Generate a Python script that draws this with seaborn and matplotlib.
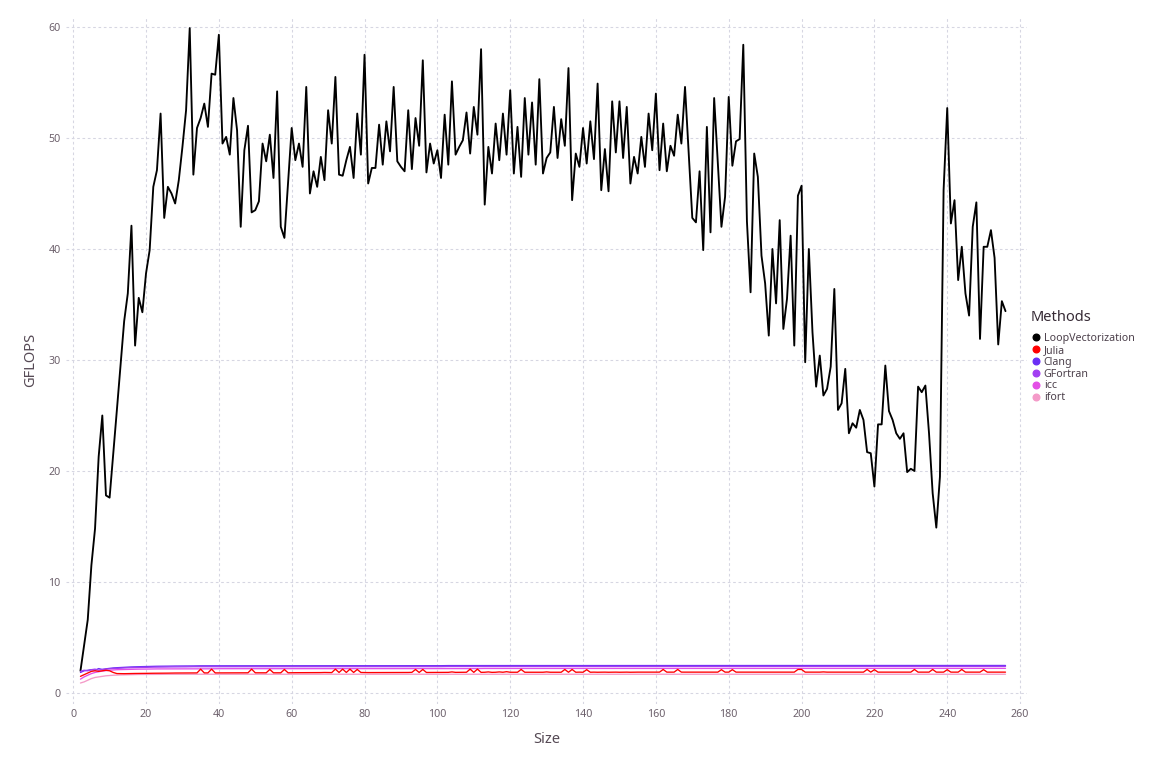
import matplotlib
matplotlib.use("Agg")
import matplotlib.pyplot as plt
import pandas as pd
import seaborn as sns
from matplotlib.lines import Line2D

sizes = list(range(2, 257))

loopvec = [
    2.0, 4.3, 6.6, 11.5, 14.8, 21.3, 25.0, 17.8, 17.6, 21.5,
    25.5, 29.5, 33.5, 36.0, 42.1, 31.3, 35.6, 34.3, 37.8, 39.9,
    45.6, 47.1, 52.2, 42.8, 45.6, 45.0, 44.1, 46.2, 49.2, 52.5,
    59.9, 46.7, 50.9, 51.8, 53.1, 51.0, 55.8, 55.7, 59.3, 49.5,
    50.1, 48.5, 53.6, 50.7, 42.0, 48.9, 51.1, 43.3, 43.5, 44.3,
    49.5, 47.9, 50.3, 46.4, 54.2, 42.0, 41.0, 45.9, 50.9, 48.0,
    49.5, 47.4, 54.6, 45.0, 47.0, 45.6, 48.3, 46.2, 52.5, 49.5,
    55.5, 46.7, 46.6, 48.0, 49.2, 46.4, 52.2, 48.5, 57.5, 45.9,
    47.3, 47.3, 51.2, 47.6, 51.5, 48.8, 54.6, 47.9, 47.4, 47.0,
    52.5, 47.2, 51.8, 49.3, 57.0, 46.9, 49.5, 47.7, 48.9, 46.4,
    52.1, 47.6, 55.1, 48.5, 49.2, 49.8, 52.3, 48.6, 52.8, 50.3,
    58.0, 44.0, 49.2, 46.8, 51.3, 48.0, 52.2, 48.5, 54.3, 46.8,
    51.0, 46.5, 53.6, 48.5, 53.2, 47.6, 55.3, 46.8, 48.2, 48.7,
    52.8, 48.2, 51.7, 49.3, 56.3, 44.4, 48.6, 47.4, 50.9, 47.7,
    51.5, 48.1, 54.9, 45.3, 49.0, 45.2, 53.3, 48.7, 53.3, 48.2,
    52.8, 45.9, 48.3, 46.8, 50.1, 47.4, 52.2, 48.9, 54.0, 47.1,
    51.3, 47.0, 49.3, 48.4, 52.1, 49.5, 54.6, 48.7, 42.8, 42.4,
    47.0, 39.9, 51.0, 41.5, 53.6, 47.8, 42.0, 44.7, 53.7, 47.5,
    49.7, 49.9, 58.4, 42.5, 36.1, 48.6, 46.5, 39.4, 36.9, 32.2,
    40.0, 35.1, 42.6, 32.8, 35.5, 41.2, 31.3, 44.8, 45.7, 29.8,
    40.0, 32.5, 27.6, 30.4, 26.8, 27.4, 29.4, 36.4, 25.5, 26.1,
    29.2, 23.4, 24.3, 23.9, 25.5, 24.6, 21.7, 21.6, 18.6, 24.2,
    24.2, 29.5, 25.4, 24.6, 23.4, 22.9, 23.4, 19.9, 20.2, 20.0,
    27.6, 27.1, 27.7, 23.4, 18.0, 14.9, 19.5, 45.3, 52.7, 42.3,
    44.4, 37.2, 40.2, 36.0, 34.0, 42.0, 44.2, 31.9, 40.2, 40.2,
    41.7, 39.2, 31.4, 35.3, 34.4,
]

julia = [
    1.50, 1.65, 1.80, 1.95, 2.00, 1.95, 2.00, 2.05, 2.00, 1.85,
    1.75, 1.74, 1.74, 1.75, 1.75, 1.76, 1.76, 1.77, 1.77, 1.78,
    1.78, 1.78, 1.79, 1.79, 1.79, 1.80, 1.80, 1.80, 1.80, 1.80,
    1.80, 1.81, 1.81, 2.15, 1.81, 1.81, 2.15, 1.81, 1.81, 1.81,
    1.81, 1.81, 1.82, 1.81, 1.82, 1.82, 1.82, 2.15, 1.82, 1.82,
    1.82, 1.82, 2.12, 1.82, 1.82, 1.82, 2.12, 1.82, 1.83, 1.83,
    1.83, 1.83, 1.83, 1.84, 1.83, 1.84, 1.84, 1.85, 1.84, 1.84,
    2.15, 1.85, 2.15, 1.85, 2.15, 1.85, 2.12, 1.85, 1.84, 1.84,
    1.84, 1.83, 1.83, 1.84, 1.83, 1.83, 1.84, 1.84, 1.84, 1.85,
    1.85, 1.86, 2.12, 1.85, 2.12, 1.85, 1.85, 1.85, 1.86, 1.85,
    1.86, 1.86, 1.90, 1.86, 1.86, 1.86, 1.87, 2.15, 1.86, 2.15,
    1.86, 1.87, 1.90, 1.86, 1.87, 1.90, 1.87, 1.92, 1.87, 1.87,
    1.87, 2.12, 1.87, 1.87, 1.87, 1.87, 1.88, 1.87, 1.90, 1.87,
    1.87, 1.88, 1.87, 2.12, 1.87, 2.12, 1.87, 1.88, 1.87, 2.10,
    1.87, 1.88, 1.87, 1.88, 1.88, 1.87, 1.88, 1.88, 1.87, 1.88,
    1.88, 1.87, 1.88, 1.88, 1.88, 1.88, 1.88, 1.88, 1.89, 1.88,
    2.12, 1.88, 1.88, 1.88, 2.12, 1.88, 1.88, 1.88, 1.88, 1.88,
    1.88, 1.89, 1.88, 1.88, 1.88, 1.88, 2.10, 1.88, 1.88, 2.10,
    1.88, 1.88, 1.88, 1.89, 1.88, 1.88, 1.88, 1.88, 1.88, 1.88,
    1.88, 1.88, 1.89, 1.88, 1.88, 1.88, 1.88, 2.12, 2.12, 1.88,
    1.88, 1.89, 1.88, 1.88, 1.90, 1.88, 1.88, 1.88, 1.88, 1.89,
    1.88, 1.88, 1.88, 1.88, 1.88, 1.88, 2.12, 1.88, 2.10, 1.88,
    1.88, 1.88, 1.89, 1.88, 1.88, 1.88, 1.88, 1.88, 1.88, 2.12,
    1.88, 1.88, 1.88, 1.88, 2.12, 1.88, 1.88, 1.88, 2.10, 1.88,
    1.88, 1.88, 2.12, 1.88, 1.88, 1.88, 1.88, 1.88, 2.10, 1.88,
    1.88, 1.88, 1.88, 1.88, 1.88,
]

clang = [
    1.85, 2.00, 2.05, 2.10, 2.05, 2.20, 2.12, 2.18, 2.22, 2.26,
    2.28, 2.30, 2.32, 2.33, 2.35, 2.36, 2.37, 2.38, 2.39, 2.40,
    2.40, 2.41, 2.41, 2.42, 2.42, 2.43, 2.43, 2.43, 2.44, 2.44,
    2.44, 2.44, 2.45, 2.45, 2.45, 2.45, 2.45, 2.45, 2.45, 2.45,
    2.45, 2.45, 2.45, 2.45, 2.45, 2.45, 2.45, 2.45, 2.45, 2.45,
    2.46, 2.46, 2.46, 2.46, 2.46, 2.46, 2.46, 2.46, 2.46, 2.46,
    2.46, 2.46, 2.46, 2.46, 2.46, 2.46, 2.46, 2.46, 2.46, 2.46,
    2.46, 2.46, 2.46, 2.46, 2.46, 2.46, 2.46, 2.46, 2.46, 2.46,
    2.46, 2.46, 2.46, 2.46, 2.46, 2.46, 2.46, 2.46, 2.46, 2.46,
    2.46, 2.46, 2.46, 2.46, 2.46, 2.46, 2.46, 2.46, 2.46, 2.46,
    2.47, 2.47, 2.47, 2.47, 2.47, 2.47, 2.47, 2.47, 2.47, 2.47,
    2.47, 2.47, 2.47, 2.47, 2.47, 2.47, 2.47, 2.47, 2.47, 2.47,
    2.47, 2.47, 2.47, 2.47, 2.47, 2.47, 2.47, 2.47, 2.47, 2.47,
    2.47, 2.47, 2.47, 2.47, 2.47, 2.47, 2.47, 2.47, 2.47, 2.47,
    2.47, 2.47, 2.47, 2.47, 2.47, 2.47, 2.47, 2.47, 2.47, 2.47,
    2.47, 2.47, 2.47, 2.47, 2.47, 2.47, 2.47, 2.47, 2.47, 2.47,
    2.48, 2.48, 2.48, 2.48, 2.48, 2.48, 2.48, 2.48, 2.48, 2.48,
    2.48, 2.48, 2.48, 2.48, 2.48, 2.48, 2.48, 2.48, 2.48, 2.48,
    2.48, 2.48, 2.48, 2.48, 2.48, 2.48, 2.48, 2.48, 2.48, 2.48,
    2.48, 2.48, 2.48, 2.48, 2.48, 2.48, 2.48, 2.48, 2.48, 2.48,
    2.48, 2.48, 2.48, 2.48, 2.48, 2.48, 2.48, 2.48, 2.48, 2.48,
    2.48, 2.48, 2.48, 2.48, 2.48, 2.48, 2.48, 2.48, 2.48, 2.48,
    2.48, 2.48, 2.48, 2.48, 2.48, 2.48, 2.48, 2.48, 2.48, 2.48,
    2.48, 2.48, 2.48, 2.48, 2.48, 2.48, 2.48, 2.48, 2.48, 2.48,
    2.48, 2.48, 2.48, 2.48, 2.48, 2.48, 2.48, 2.48, 2.48, 2.48,
    2.48, 2.48, 2.48, 2.48, 2.48,
]

gfortran = [
    1.95, 2.05, 2.00, 2.10, 2.15, 2.05, 2.12, 2.15, 2.18, 2.20,
    2.22, 2.24, 2.25, 2.27, 2.28, 2.29, 2.30, 2.31, 2.32, 2.32,
    2.33, 2.33, 2.34, 2.34, 2.35, 2.35, 2.35, 2.36, 2.36, 2.36,
    2.37, 2.37, 2.37, 2.37, 2.37, 2.37, 2.37, 2.37, 2.37, 2.37,
    2.37, 2.37, 2.37, 2.37, 2.37, 2.37, 2.37, 2.37, 2.37, 2.37,
    2.38, 2.38, 2.38, 2.38, 2.38, 2.38, 2.38, 2.38, 2.38, 2.38,
    2.38, 2.38, 2.38, 2.38, 2.38, 2.38, 2.38, 2.38, 2.38, 2.38,
    2.38, 2.38, 2.38, 2.38, 2.38, 2.38, 2.38, 2.38, 2.38, 2.38,
    2.38, 2.38, 2.38, 2.38, 2.38, 2.38, 2.38, 2.38, 2.38, 2.38,
    2.38, 2.38, 2.38, 2.38, 2.38, 2.38, 2.38, 2.38, 2.38, 2.38,
    2.39, 2.39, 2.39, 2.39, 2.39, 2.39, 2.39, 2.39, 2.39, 2.39,
    2.39, 2.39, 2.39, 2.39, 2.39, 2.39, 2.39, 2.39, 2.39, 2.39,
    2.39, 2.39, 2.39, 2.39, 2.39, 2.39, 2.39, 2.39, 2.39, 2.39,
    2.39, 2.39, 2.39, 2.39, 2.39, 2.39, 2.39, 2.39, 2.39, 2.39,
    2.39, 2.39, 2.39, 2.39, 2.39, 2.39, 2.39, 2.39, 2.39, 2.39,
    2.39, 2.39, 2.39, 2.39, 2.39, 2.39, 2.39, 2.39, 2.39, 2.39,
    2.40, 2.40, 2.40, 2.40, 2.40, 2.40, 2.40, 2.40, 2.40, 2.40,
    2.40, 2.40, 2.40, 2.40, 2.40, 2.40, 2.40, 2.40, 2.40, 2.40,
    2.40, 2.40, 2.40, 2.40, 2.40, 2.40, 2.40, 2.40, 2.40, 2.40,
    2.40, 2.40, 2.40, 2.40, 2.40, 2.40, 2.40, 2.40, 2.40, 2.40,
    2.40, 2.40, 2.40, 2.40, 2.40, 2.40, 2.40, 2.40, 2.40, 2.40,
    2.40, 2.40, 2.40, 2.40, 2.40, 2.40, 2.40, 2.40, 2.40, 2.40,
    2.40, 2.40, 2.40, 2.40, 2.40, 2.40, 2.40, 2.40, 2.40, 2.40,
    2.40, 2.40, 2.40, 2.40, 2.40, 2.40, 2.40, 2.40, 2.40, 2.40,
    2.40, 2.40, 2.40, 2.40, 2.40, 2.40, 2.40, 2.40, 2.40, 2.40,
    2.40, 2.40, 2.40, 2.40, 2.40,
]

icc = [
    1.25, 1.45, 1.60, 1.75, 1.85, 1.92, 1.98, 2.02, 2.05, 2.08,
    2.10, 2.11, 2.12, 2.13, 2.14, 2.14, 2.15, 2.15, 2.16, 2.16,
    2.17, 2.17, 2.17, 2.17, 2.18, 2.18, 2.18, 2.18, 2.18, 2.18,
    2.18, 2.18, 2.18, 2.18, 2.18, 2.18, 2.18, 2.19, 2.19, 2.19,
    2.19, 2.19, 2.19, 2.19, 2.19, 2.19, 2.19, 2.19, 2.19, 2.19,
    2.19, 2.19, 2.19, 2.19, 2.19, 2.19, 2.19, 2.19, 2.19, 2.19,
    2.20, 2.20, 2.20, 2.20, 2.20, 2.20, 2.20, 2.20, 2.20, 2.20,
    2.20, 2.20, 2.20, 2.20, 2.20, 2.20, 2.20, 2.20, 2.20, 2.20,
    2.20, 2.20, 2.20, 2.20, 2.20, 2.20, 2.20, 2.20, 2.20, 2.20,
    2.20, 2.20, 2.20, 2.20, 2.20, 2.20, 2.20, 2.20, 2.20, 2.20,
    2.20, 2.20, 2.20, 2.20, 2.20, 2.20, 2.20, 2.20, 2.20, 2.20,
    2.21, 2.21, 2.21, 2.21, 2.21, 2.21, 2.21, 2.21, 2.21, 2.21,
    2.21, 2.21, 2.21, 2.21, 2.21, 2.21, 2.21, 2.21, 2.21, 2.21,
    2.21, 2.21, 2.21, 2.21, 2.21, 2.21, 2.21, 2.21, 2.21, 2.21,
    2.21, 2.21, 2.21, 2.21, 2.21, 2.21, 2.21, 2.21, 2.21, 2.21,
    2.21, 2.21, 2.21, 2.21, 2.21, 2.21, 2.21, 2.21, 2.21, 2.21,
    2.21, 2.21, 2.21, 2.21, 2.21, 2.21, 2.21, 2.21, 2.21, 2.21,
    2.21, 2.21, 2.21, 2.21, 2.21, 2.21, 2.21, 2.21, 2.21, 2.21,
    2.21, 2.21, 2.21, 2.21, 2.21, 2.21, 2.21, 2.21, 2.21, 2.21,
    2.22, 2.22, 2.22, 2.22, 2.22, 2.22, 2.22, 2.22, 2.22, 2.22,
    2.22, 2.22, 2.22, 2.22, 2.22, 2.22, 2.22, 2.22, 2.22, 2.22,
    2.22, 2.22, 2.22, 2.22, 2.22, 2.22, 2.22, 2.22, 2.22, 2.22,
    2.22, 2.22, 2.22, 2.22, 2.22, 2.22, 2.22, 2.22, 2.22, 2.22,
    2.22, 2.22, 2.22, 2.22, 2.22, 2.22, 2.22, 2.22, 2.22, 2.22,
    2.22, 2.22, 2.22, 2.22, 2.22, 2.22, 2.22, 2.22, 2.22, 2.22,
    2.22, 2.22, 2.22, 2.22, 2.22,
]

ifort = [
    0.90, 1.00, 1.15, 1.30, 1.40, 1.45, 1.50, 1.55, 1.58, 1.60,
    1.62, 1.63, 1.64, 1.65, 1.66, 1.66, 1.67, 1.67, 1.68, 1.68,
    1.68, 1.68, 1.68, 1.69, 1.69, 1.69, 1.69, 1.69, 1.69, 1.69,
    1.69, 1.69, 1.69, 1.69, 1.69, 1.69, 1.69, 1.69, 1.69, 1.69,
    1.70, 1.70, 1.70, 1.70, 1.70, 1.70, 1.70, 1.70, 1.70, 1.70,
    1.70, 1.70, 1.70, 1.70, 1.70, 1.70, 1.70, 1.70, 1.70, 1.70,
    1.70, 1.70, 1.70, 1.70, 1.70, 1.70, 1.70, 1.70, 1.70, 1.70,
    1.70, 1.70, 1.70, 1.70, 1.70, 1.70, 1.70, 1.70, 1.70, 1.70,
    1.70, 1.70, 1.70, 1.70, 1.70, 1.70, 1.70, 1.70, 1.70, 1.70,
    1.70, 1.70, 1.70, 1.70, 1.70, 1.70, 1.70, 1.70, 1.70, 1.70,
    1.70, 1.70, 1.70, 1.70, 1.70, 1.70, 1.70, 1.70, 1.70, 1.70,
    1.70, 1.70, 1.70, 1.70, 1.70, 1.70, 1.70, 1.70, 1.70, 1.70,
    1.70, 1.70, 1.70, 1.70, 1.70, 1.70, 1.70, 1.70, 1.70, 1.70,
    1.70, 1.70, 1.70, 1.70, 1.70, 1.70, 1.70, 1.70, 1.70, 1.70,
    1.70, 1.70, 1.70, 1.70, 1.70, 1.70, 1.70, 1.70, 1.70, 1.70,
    1.70, 1.70, 1.70, 1.70, 1.70, 1.70, 1.70, 1.70, 1.70, 1.70,
    1.70, 1.70, 1.70, 1.70, 1.70, 1.70, 1.70, 1.70, 1.70, 1.70,
    1.70, 1.70, 1.70, 1.70, 1.70, 1.70, 1.70, 1.70, 1.70, 1.70,
    1.70, 1.70, 1.70, 1.70, 1.70, 1.70, 1.70, 1.70, 1.70, 1.70,
    1.70, 1.70, 1.70, 1.70, 1.70, 1.70, 1.70, 1.70, 1.70, 1.70,
    1.70, 1.70, 1.70, 1.70, 1.70, 1.70, 1.70, 1.70, 1.70, 1.70,
    1.69, 1.69, 1.69, 1.69, 1.69, 1.69, 1.69, 1.69, 1.69, 1.69,
    1.68, 1.68, 1.68, 1.68, 1.68, 1.68, 1.68, 1.68, 1.68, 1.68,
    1.68, 1.68, 1.68, 1.68, 1.68, 1.68, 1.68, 1.68, 1.68, 1.68,
    1.69, 1.69, 1.69, 1.69, 1.69, 1.69, 1.69, 1.69, 1.69, 1.69,
    1.69, 1.69, 1.69, 1.69, 1.69,
]

methods = ["LoopVectorization", "Julia", "Clang", "GFortran", "icc", "ifort"]
method_colors = ["#000000", "#ff0000", "#6b2ff5", "#a23ff2", "#e34fe6", "#f49ac8"]
x_ticks = [0, 20, 40, 60, 80, 100, 120, 140, 160, 180, 200, 220, 240, 260]
y_ticks = [0, 10, 20, 30, 40, 50, 60]

series = {
    "LoopVectorization": loopvec,
    "Julia": julia,
    "Clang": clang,
    "GFortran": gfortran,
    "icc": icc,
    "ifort": ifort,
}
frames = []
for m in methods:
    frames.append(pd.DataFrame({"Size": sizes, "GFLOPS": series[m], "Method": m}))
df = pd.concat(frames, ignore_index=True)

sns.set_theme(style="white")
plt.rcParams["font.family"] = ["Noto Sans", "DejaVu Sans"]

fig = plt.figure(figsize=(12, 8), dpi=96)
ax = fig.add_axes([0.0572, 0.0832, 0.8346, 0.8961])

palette = dict(zip(methods, method_colors))
sns.lineplot(data=df, x="Size", y="GFLOPS", hue="Method", hue_order=methods,
             palette=palette, legend=False, ax=ax, linewidth=1.0,
             estimator=None, sort=False)

for line, m in zip(ax.lines, methods):
    if m == "LoopVectorization":
        line.set_linewidth(1.4)
        line.set_zorder(2)
    elif m == "Julia":
        line.set_zorder(4)
    else:
        line.set_zorder(3)

ax.set_xlim(-2, 262)
ax.set_ylim(-1, 61)
ax.set_xticks(x_ticks)
ax.set_yticks(y_ticks)
ax.grid(True, color="#d6d6e2", linestyle=(0, (2.5, 2.5)), linewidth=0.8)
ax.set_axisbelow(True)
for sp in ax.spines.values():
    sp.set_visible(False)
ax.tick_params(axis="both", length=0, labelsize=8, labelcolor="#6c606b")
ax.tick_params(axis="x", pad=4)
ax.tick_params(axis="y", pad=4)
ax.set_xlabel("Size", fontsize=11, color="#564a55", labelpad=9)
ax.set_ylabel("GFLOPS", fontsize=11, color="#564a55", labelpad=8)

handles = [Line2D([], [], marker="o", linestyle="", color=c, markersize=5)
           for c in method_colors]
leg = fig.legend(handles, methods, title="Methods", loc="upper left",
                 bbox_to_anchor=(1031 / 1152, 1 - 310 / 768), frameon=False,
                 fontsize=8, title_fontsize=11, handletextpad=0.2,
                 labelspacing=0.08, borderpad=0, handlelength=1.0,
                 borderaxespad=0)
leg._legend_box.align = "left"
leg._legend_box.sep = 6
leg.get_title().set_color("#362a35")
for t in leg.get_texts():
    t.set_color("#4c404b")

fig.savefig("out.png", dpi=96)
